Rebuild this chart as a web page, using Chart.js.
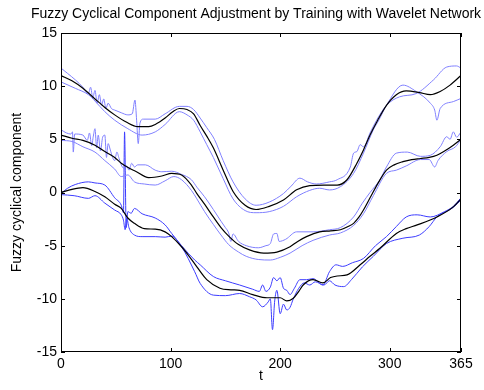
<!DOCTYPE html>
<html><head><meta charset="utf-8">
<script src="https://cdn.jsdelivr.net/npm/chart.js@4/dist/chart.umd.min.js"></script>
<style>html,body{margin:0;padding:0;background:#fff}#wrap{width:484px;height:390px}</style>
</head><body><div id="wrap"><canvas id="c" width="484" height="390"></canvas></div>
<script>
const TITLE = 'Fuzzy Cyclical Component Adjustment by Training with Wavelet Network';
const X_LABEL = 't';
const Y_LABEL = 'Fuzzy cyclical component';
const X_TICKS = [0, 100, 200, 300, 365];
const Y_TICKS = [-15, -10, -5, 0, 5, 10, 15];

// [t, value] pairs
const topCenter = [[0,11.0],[10,10.5],[20,9.8],[31,8.8],[40,8.0],[49,7.3],[60,6.6],[70,6.2],[80,6.2],[86,6.4],[95,7.0],[102,7.6],[108,7.9],[115,7.8],[121,7.4],[127,6.3],[133,5.3],[139,4.2],[148,2.1],[157,0.1],[168,-1.2],[178,-1.6],[190,-1.3],[203,-0.7],[215,0.25],[227,0.65],[240,0.7],[252,0.7],[261,1.2],[270,2.75],[276,4.0],[282,5.4],[289,6.8],[297,8.2],[306,9.2],[315,9.55],[327,9.4],[337,9.2],[346,9.5],[355,10.1],[365,11.0]];
const topUpper = [[0,11.7],[6,11.2],[13,10.6],[20,9.9],[25,9.3],[27,9.9],[29,8.9],[31,9.6],[33,8.4],[35,9.2],[37,8.2],[39,8.8],[41,7.9],[43,8.4],[46,7.9],[49,7.75],[55,7.5],[61,7.3],[65,7.4],[67.5,8.7],[69,6.8],[70.5,4.6],[72,6.5],[75,6.9],[86,6.9],[95,7.4],[108,8.1],[115,8.1],[121,7.8],[127,7.0],[133,6.1],[140,5.0],[148,3.0],[157,1.0],[168,-0.6],[178,-1.2],[190,-0.9],[203,-0.1],[210,0.6],[218,1.35],[225,1.0],[233,0.8],[245,1.0],[252,1.2],[264,2.4],[267,3.7],[270,3.85],[273,4.5],[276,4.3],[282,5.6],[288,6.8],[297,8.2],[309,9.0],[324,9.3],[340,10.6],[352,11.8],[361,11.9],[365,11.7]];
const topLower = [[0,10.4],[13,9.8],[25,9.2],[31,8.6],[40,7.6],[49,6.8],[61,6.0],[74,5.4],[86,5.7],[95,6.4],[108,7.6],[115,7.3],[121,6.8],[127,5.7],[133,4.5],[139,3.3],[148,1.3],[157,-0.6],[168,-1.7],[178,-1.9],[190,-1.8],[203,-1.3],[215,-0.4],[227,0.2],[236,0.4],[245,0.24],[255,0.55],[267,1.8],[276,3.7],[285,5.9],[290,6.8],[297,8.2],[312,10.1],[324,9.5],[337,8.4],[341,7.75],[343,6.8],[346,7.9],[358,8.55],[365,8.85]];

const midCenter = [[0,5.4],[10,5.1],[20,4.9],[31,4.45],[40,3.85],[49,3.3],[55,2.75],[62,2.3],[68,2.0],[80,1.4],[92,1.55],[101,1.8],[110,1.65],[119,0.7],[124,-0.1],[131,-1.1],[139,-2.3],[146,-3.3],[153,-4.1],[162,-4.9],[172,-5.4],[185,-5.7],[197,-5.6],[209,-5.1],[216,-4.6],[224,-4.15],[236,-3.7],[246,-3.6],[255,-3.5],[262,-3.2],[267,-2.9],[272,-2.3],[276,-1.65],[282,-0.5],[290,1.0],[297,2.1],[304,2.6],[312,2.9],[320,3.1],[328,3.2],[336,3.3],[343,3.5],[350,3.9],[358,4.45],[365,5.0]];
const midUpper = [[0,5.9],[5,5.6],[9,5.5],[10.5,5.7],[11.2,3.8],[12.5,5.5],[20,5.4],[24,4.9],[26,5.6],[28,4.4],[29.5,5.3],[31,6.0],[32.5,4.2],[34,5.4],[36,3.9],[38,5.2],[40,5.4],[41.5,3.3],[43,4.6],[45,4.0],[47,3.3],[49,3.0],[51,3.8],[53,3.2],[55,2.6],[57,2.3],[60,2.5],[62,2.1],[64.5,2.75],[67,2.4],[70,2.6],[77,2.6],[86,2.1],[92,1.95],[101,2.0],[110,1.7],[119,1.2],[124,0.5],[131,-0.4],[139,-1.6],[146,-2.7],[150,-3.3],[153,-3.8],[155,-4.6],[157,-3.9],[162,-4.6],[169,-5.0],[180,-5.2],[187,-5.0],[191,-4.8],[194,-3.9],[197,-3.85],[199,-4.6],[205,-4.4],[215,-3.7],[230,-3.7],[245,-3.5],[255,-3.3],[267,-2.3],[275,-1.0],[282,0.0],[291,1.2],[297,2.4],[306,3.7],[316,3.8],[328,3.4],[337,3.5],[346,4.3],[352,5.25],[355,5.0],[358,5.7],[361,5.2],[365,5.7]];
const midLower = [[0,4.9],[10,4.8],[20,4.3],[31,3.8],[40,3.0],[49,2.2],[55,1.5],[61,1.65],[67,1.0],[76,0.8],[86,0.7],[95,1.1],[103,1.5],[110,1.2],[119,0.2],[124,-0.6],[131,-1.8],[139,-3.0],[146,-4.0],[153,-4.9],[162,-5.6],[169,-6.0],[180,-6.3],[191,-6.35],[200,-6.1],[209,-5.7],[220,-5.0],[230,-4.5],[245,-4.0],[255,-3.8],[267,-3.1],[276,-2.0],[285,-0.3],[297,1.8],[306,2.1],[315,2.5],[328,3.1],[336,3.1],[341,2.4],[344,3.0],[352,3.85],[360,4.3],[365,5.0]];

const botCenter = [[0,0.0],[10,0.3],[20,0.45],[31,0.1],[40,-0.4],[49,-1.1],[55,-1.5],[61,-2.4],[67,-2.9],[76,-3.4],[86,-3.45],[95,-3.7],[101,-4.15],[110,-5.1],[117,-6.0],[124,-7.0],[133,-8.2],[145,-9.0],[155,-9.15],[163,-9.2],[175,-9.6],[188,-9.9],[200,-9.9],[206,-10.2],[212,-9.95],[217,-9.3],[221,-8.7],[230,-8.2],[239,-8.5],[246,-8.0],[252,-7.85],[261,-7.75],[273,-6.8],[282,-6.0],[291,-5.25],[306,-3.85],[315,-3.4],[325,-3.05],[343,-2.3],[358,-1.35],[365,-0.6]];
const botUpper = [[0,-0.1],[6,0.4],[13,0.75],[25,1.0],[31,0.9],[40,0.7],[49,-0.5],[55,-1.2],[57,-1.9],[58,5.7],[59.5,-3.3],[61,-1.8],[64,-1.95],[67,-1.5],[74,-2.0],[86,-2.4],[95,-3.05],[101,-3.85],[110,-5.0],[122,-6.35],[127,-6.8],[139,-7.9],[150,-8.3],[163,-8.7],[175,-9.1],[181,-9.3],[184,-8.7],[187,-9.3],[191,-8.9],[194,-8.0],[197,-8.3],[200,-8.0],[203,-9.0],[206,-9.2],[209,-9.6],[213,-9.0],[218,-8.2],[224,-8.2],[230,-8.1],[239,-8.7],[245,-7.45],[251,-6.8],[257,-6.95],[266,-6.6],[276,-6.2],[287,-5.0],[297,-4.15],[306,-3.2],[315,-2.3],[325,-2.1],[337,-2.3],[350,-1.8],[358,-1.3],[365,-0.5]];
const botLower = [[0,-0.2],[12,-0.3],[25,-0.55],[31,-0.3],[40,-1.0],[49,-1.65],[55,-2.1],[57,-2.6],[58.5,-3.5],[60,-2.4],[62,-3.3],[67,-4.0],[74,-4.15],[86,-4.15],[95,-4.2],[101,-4.1],[110,-5.1],[122,-7.45],[127,-8.55],[139,-9.65],[150,-9.7],[163,-9.5],[172,-9.8],[178,-10.1],[184,-10.75],[189,-10.3],[191,-10.0],[193,-12.9],[195,-10.2],[197,-9.2],[200,-11.4],[203,-10.5],[206,-11.05],[209,-10.8],[212,-10.0],[217,-9.0],[222,-8.5],[227,-8.7],[232,-8.4],[240,-8.7],[245,-8.3],[250,-8.7],[258,-8.85],[265,-8.2],[275,-7.0],[285,-6.0],[297,-4.8],[312,-4.3],[327,-4.0],[336,-3.2],[343,-2.3],[358,-1.4],[365,-0.7]];

const FONT = "'Liberation Sans', Arial, Helvetica, sans-serif";
const LIGHT = 'rgb(128,128,255)';
const DARK = 'rgb(60,60,255)';

function ds(pairs, color, w) {
  return {
    data: pairs.map(p => ({x: p[0], y: p[1]})),
    borderColor: color, borderWidth: w, pointRadius: 0, fill: false,
    cubicInterpolationMode: 'monotone'
  };
}

const frame = {
  id: 'frame',
  afterDraw(chart) {
    const {ctx, chartArea: a, scales: {x, y}} = chart;
    ctx.save();
    ctx.strokeStyle = '#000';
    ctx.lineWidth = 1;
    ctx.strokeRect(Math.round(a.left) + 0.5, Math.round(a.top) + 0.5, Math.round(a.right - a.left) - 1, Math.round(a.bottom - a.top) - 1);
    ctx.beginPath();
    const L = 4;
    X_TICKS.forEach(v => {
      const px = Math.round(x.getPixelForValue(v)) + 0.5;
      ctx.moveTo(px, a.bottom); ctx.lineTo(px, a.bottom - L);
      ctx.moveTo(px, a.top); ctx.lineTo(px, a.top + L);
    });
    Y_TICKS.forEach(v => {
      const py = Math.round(y.getPixelForValue(v)) + 0.5;
      ctx.moveTo(a.left, py); ctx.lineTo(a.left + L, py);
      ctx.moveTo(a.right, py); ctx.lineTo(a.right - L, py);
    });
    ctx.stroke();
    ctx.fillStyle = '#000';
    ctx.font = '14px ' + FONT;
    ctx.textAlign = 'center';
    ctx.textBaseline = 'middle';
    ctx.fillText(TITLE, 256, 14);
    ctx.textBaseline = 'alphabetic';
    ctx.fillText(X_LABEL, (a.left + a.right) / 2, 380);
    ctx.translate(17, (a.top + a.bottom) / 2);
    ctx.rotate(-Math.PI / 2);
    ctx.textBaseline = 'middle';
    ctx.fillText(Y_LABEL, 0, 0);
    ctx.restore();
  }
};

new Chart(document.getElementById('c'), {
  type: 'line',
  data: {
    datasets: [
      ds(topCenter, '#000', 1.2), ds(midCenter, '#000', 1.2), ds(botCenter, '#000', 1.2),
      ds(topUpper, LIGHT, 1), ds(topLower, LIGHT, 1),
      ds(midUpper, LIGHT, 1), ds(midLower, LIGHT, 1),
      ds(botUpper, DARK, 1), ds(botLower, DARK, 1)
    ]
  },
  options: {
    responsive: false, animation: false, devicePixelRatio: 1,
    layout: {padding: {top: 33, left: 0, right: 23, bottom: 0}},
    plugins: {legend: {display: false}, title: {display: false}, tooltip: {enabled: false}},
    scales: {
      x: {
        type: 'linear', min: 0, max: 365,
        afterBuildTicks: s => { s.ticks = X_TICKS.map(v => ({value: v})); },
        afterFit: s => { s.height = 38; },
        grid: {display: false, drawTicks: false}, border: {display: false},
        ticks: {padding: 4, color: '#000', font: {family: FONT, size: 14}, maxRotation: 0, autoSkip: false}
      },
      y: {
        type: 'linear', min: -15, max: 15,
        afterBuildTicks: s => { s.ticks = Y_TICKS.map(v => ({value: v})); },
        afterFit: s => { s.width = 61; },
        grid: {display: false, drawTicks: false}, border: {display: false},
        ticks: {padding: 4, color: '#000', font: {family: FONT, size: 14}}
      }
    }
  },
  plugins: [frame]
});
</script></body></html>
